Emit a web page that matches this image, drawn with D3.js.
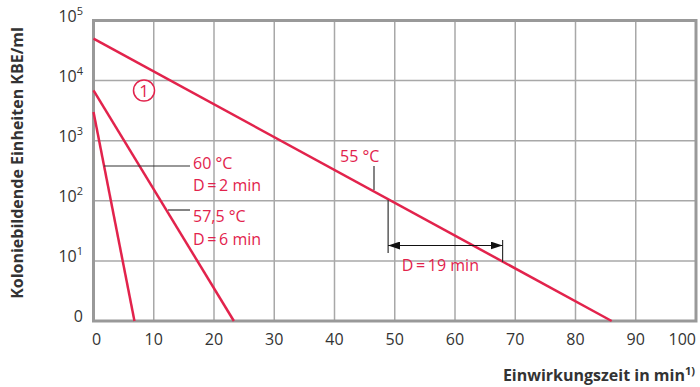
<!DOCTYPE html>
<html>
<head>
<meta charset="utf-8">
<script src="https://cdn.jsdelivr.net/npm/d3@7"></script>
<style>
  body { margin: 0; background: #fff; }
  text { font-family: "Open Sans", "Noto Sans", sans-serif; }
</style>
</head>
<body>
<div id="chart"></div>
<script>
// data
const xTicks = [0, 10, 20, 30, 40, 50, 60, 70, 80, 90, 100];
const yTicks = [1, 10, 100, 1000, 10000, 100000];
const yExp = ["", "1", "2", "3", "4", "5"];
const temps = ["55 °C", "57,5 °C", "60 °C"];
const dValues = [19, 6, 2];
const startCount = [50000, 6900, 3000];   // KBE/ml at t = 0
const endTime = [86, 23.3, 6.8];          // min where 10^0 is reached

const width = 700, height = 387;
const red = "#e2234c", ink = "#333";

const svg = d3.select("#chart").append("svg")
    .attr("width", width)
    .attr("height", height);

const x = d3.scaleLinear().domain([0, 100]).range([93.5, 696]);
const y = d3.scaleLog().domain([1, 100000]).range([321, 20.5]);

// grid
svg.append("g").selectAll("line.vg")
  .data(xTicks.slice(1, -1))
  .join("line")
    .attr("x1", d => x(d)).attr("x2", d => x(d))
    .attr("y1", y(100000)).attr("y2", y(1))
    .attr("stroke", "#a8a8a8").attr("stroke-width", 1.5);

svg.append("g").selectAll("line.hg")
  .data(yTicks.slice(1, -1))
  .join("line")
    .attr("x1", x(0)).attr("x2", x(100))
    .attr("y1", d => y(d)).attr("y2", d => y(d))
    .attr("stroke", "#a8a8a8").attr("stroke-width", 1.5);

// frame
svg.append("rect")
    .attr("x", x(0)).attr("y", y(100000))
    .attr("width", x(100) - x(0)).attr("height", y(1) - y(100000))
    .attr("fill", "none")
    .attr("stroke", "#999").attr("stroke-width", 3);

// tick labels
svg.append("g").selectAll("text")
  .data(xTicks)
  .join("text")
    .attr("x", (d, i) => i == 0 ? x(d) - 1.5 : x(d))
    .attr("y", 345)
    .attr("text-anchor", (d, i) => i == 0 ? "start" : i == xTicks.length - 1 ? "end" : "middle")
    .attr("font-size", 16)
    .attr("fill", ink)
    .text(d => d);

const yl = svg.append("g").selectAll("text")
  .data(yTicks)
  .join("text")
    .attr("x", 83)
    .attr("y", d => y(d) + 1)
    .attr("text-anchor", "end")
    .attr("font-size", 16)
    .attr("fill", ink);
yl.append("tspan").text((d, i) => i == 0 ? "0" : "10");
yl.append("tspan")
    .attr("dy", -7)
    .attr("font-size", 11)
    .text((d, i) => yExp[i]);

// axis titles
svg.append("text")
    .attr("transform", "translate(23,163) rotate(-90)")
    .attr("text-anchor", "middle")
    .attr("font-size", 16)
    .attr("font-weight", "bold")
    .attr("fill", ink)
    .text("Koloniebildende Einheiten KBE/ml");

const xt = svg.append("text")
    .attr("x", 695).attr("y", 381)
    .attr("text-anchor", "end")
    .attr("font-size", 16)
    .attr("font-weight", "bold")
    .attr("fill", ink);
xt.append("tspan").text("Einwirkungszeit in min");
xt.append("tspan").attr("dy", -6).attr("font-size", 11).text("1)");

// kill curves
const line = d3.line().x(d => x(d[0])).y(d => y(d[1]));
svg.append("g").selectAll("path")
  .data(temps.map((t, i) => [[0, startCount[i]], [endTime[i], 1]]))
  .join("path")
    .attr("d", line)
    .attr("fill", "none")
    .attr("stroke", red)
    .attr("stroke-width", 2.5);

// marker 1
svg.append("circle")
    .attr("cx", 144).attr("cy", 90.5).attr("r", 10.5)
    .attr("fill", "#fff").attr("stroke", red).attr("stroke-width", 1.5);
svg.append("text")
    .attr("x", 144).attr("y", 96.5)
    .attr("text-anchor", "middle")
    .attr("font-size", 17)
    .attr("fill", red)
    .text("1");

// leader lines
const leader = (x1, y1, x2, y2) => svg.append("line")
    .attr("x1", x1).attr("y1", y1).attr("x2", x2).attr("y2", y2)
    .attr("stroke", ink).attr("stroke-width", 1.2);

leader(104, 166, 190, 166);
leader(168, 210, 190, 210);
leader(374, 166, 374, 190);

const label = (tx, ty, str) => svg.append("text")
    .attr("x", tx).attr("y", ty)
    .attr("font-size", 16)
    .attr("fill", red)
    .text(str);

label(193, 169, temps[2]);
label(193, 191, "D\u2009=\u2009" + dValues[2] + " min");
label(193, 222, temps[1]);
label(193, 245, "D\u2009=\u2009" + dValues[1] + " min");
label(340, 162, temps[0]);

// D = 19 min dimension
const xa = x(48.9), xb = xa + (x(dValues[0]) - x(0));
leader(xa, 200, xa, 253);
leader(xb, 240, xb, 262);

svg.append("defs").selectAll("marker")
  .data(["a0", "a1"])
  .join("marker")
    .attr("id", d => d)
    .attr("viewBox", "0 0 12 8")
    .attr("refX", 12).attr("refY", 4)
    .attr("markerWidth", 12).attr("markerHeight", 8)
    .attr("markerUnits", "userSpaceOnUse")
    .attr("orient", "auto-start-reverse")
  .append("path")
    .attr("d", "M0,0L12,4L0,8Z")
    .attr("fill", "#111");

svg.append("line")
    .attr("x1", xa).attr("x2", xb)
    .attr("y1", 245.5).attr("y2", 245.5)
    .attr("stroke", "#111").attr("stroke-width", 1.2)
    .attr("marker-start", "url(#a0)")
    .attr("marker-end", "url(#a1)");

svg.append("text")
    .attr("x", (xa + xb) / 2 - 5).attr("y", 271)
    .attr("text-anchor", "middle")
    .attr("font-size", 16)
    .attr("fill", red)
    .text("D\u2009=\u2009" + dValues[0] + " min");
</script>
</body>
</html>
